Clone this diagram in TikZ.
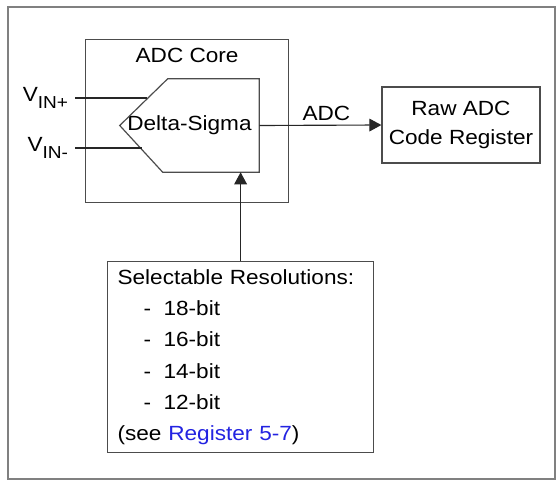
\documentclass[tikz,border=0pt]{standalone}
\usepackage{fontspec}
\setmainfont{Liberation Sans}[FakeStretch=1.1]
\usetikzlibrary{positioning, arrows.meta}

\definecolor{regblue}{RGB}{35,35,225}

\begin{document}
\begin{tikzpicture}[
    x=0.75pt, y=-0.75pt,
    font=\fontsize{15.4}{23.5}\selectfont,
    >={Triangle[length=9pt, width=9.5pt]},
    box/.style={draw=black!70, line width=0.9pt},
    wire/.style={draw=black!85, line width=0.85pt},
]

\useasboundingbox (0,0) rectangle (557,481);

% ---- Outer frame ----
\draw[black!50, line width=1.5pt] (8,7) rectangle (555,479);

% ---- ADC core ----
\node[box, minimum width=152.25pt, minimum height=122.25pt, inner sep=0pt,
      anchor=north west] (core) at (85,39) {};
\node[below=3pt of core.north] (coretitle) {ADC Core};

% delta-sigma block (pentagon drawn round the node)
\node[minimum width=104.25pt, minimum height=69.75pt, inner sep=0pt] (ds) at (189.5,125.5)
    {Delta-Sigma};
\draw[box] ([xshift=36pt]ds.north west) -- (ds.north east) -- (ds.south east)
    -- ([xshift=32.25pt]ds.south west) -- (ds.west) -- cycle;

% ---- Inputs ----
\coordinate (vinp) at (75,98);
\coordinate (vinpend) at (147,98);
\coordinate (vinm) at (75,148);
\coordinate (vinmend) at (142,148);

\node[left=5pt of vinp, inner sep=0pt] (vinplbl)
    {V\raisebox{-5.5pt}{\fontsize{13}{13}\selectfont IN+}};
\node[left=5pt of vinm, inner sep=0pt] (vinmlbl)
    {V\raisebox{-5.5pt}{\fontsize{13}{13}\selectfont IN-}};

\draw[wire] (vinp) -- (vinpend);
\draw[wire] (vinm) -- (vinmend);

% ---- Raw code register ----
\node[box, minimum width=118.5pt, minimum height=57pt, align=center] (raw) at (461,125)
    {Raw ADC\\[-1.5pt]Code Register};

\draw[wire, ->] (ds.east) -- (raw.west)
    node[pos=0.55, above] (adclbl) {ADC};

% ---- Resolution select ----
\node[box, anchor=north west, minimum height=143.25pt, inner xsep=7.5pt,
      text width=184.5pt, align=left] (sel) at (107,261)
    {Selectable Resolutions:\\
     \hspace*{19.5pt}\makebox[15pt][l]{-}18-bit\\
     \hspace*{19.5pt}\makebox[15pt][l]{-}16-bit\\
     \hspace*{19.5pt}\makebox[15pt][l]{-}14-bit\\
     \hspace*{19.5pt}\makebox[15pt][l]{-}12-bit\\
     (see \textcolor{regblue}{Register 5-7})};

\draw[wire, ->] (sel.north) -- (sel.north |- ds.south);

\end{tikzpicture}
\end{document}
